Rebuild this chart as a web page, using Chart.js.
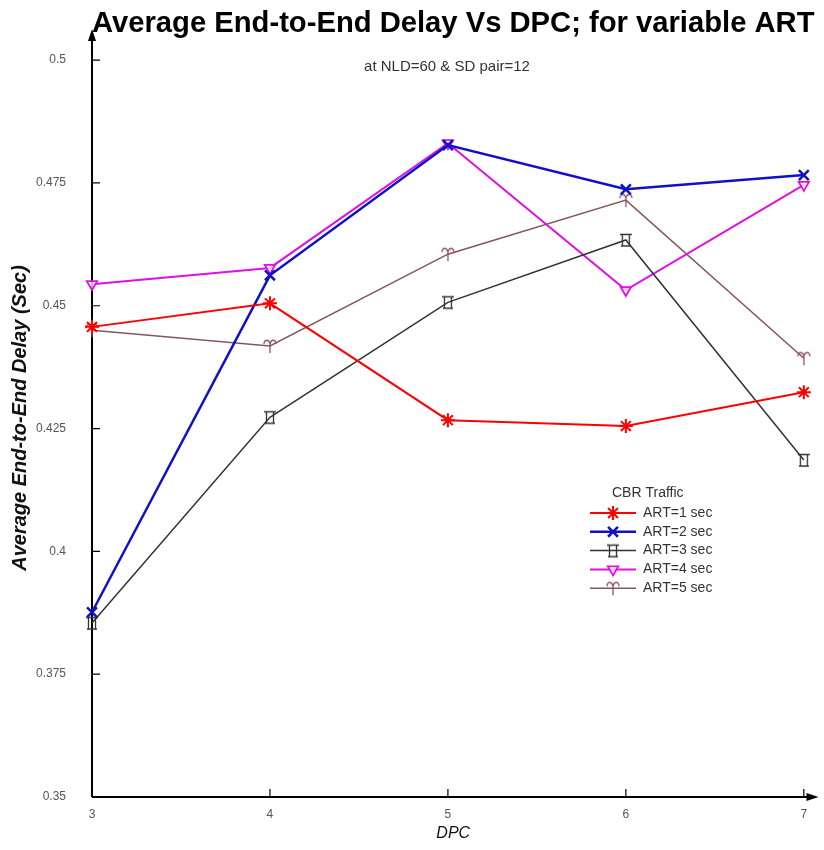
<!DOCTYPE html>
<html>
<head>
<meta charset="utf-8">
<title>Average End-to-End Delay Vs DPC</title>
<script src="https://cdn.jsdelivr.net/npm/chart.js@4.4.1/dist/chart.umd.min.js"></script>
<style>
  html, body { margin: 0; padding: 0; background: #fff; }
  canvas { display: block; }
</style>
</head>
<body>
<canvas id="delayChart" width="824" height="850"></canvas>
<script>
const dpc = [3, 4, 5, 6, 7];
const art1 = [0.4457, 0.4505, 0.4267, 0.4255, 0.4324];
const art2 = [0.3876, 0.4562, 0.4827, 0.4737, 0.4766];
const art3 = [0.3854, 0.4273, 0.4507, 0.4634, 0.4186];
const art4 = [0.4544, 0.4577, 0.4831, 0.4532, 0.4746];
const art5 = [0.4450, 0.4418, 0.4605, 0.4715, 0.4393];
const seriesLabels = ["ART=1 sec", "ART=2 sec", "ART=3 sec", "ART=4 sec", "ART=5 sec"];
const xTicks = [3, 4, 5, 6, 7];
const yTicks = [0.35, 0.375, 0.4, 0.425, 0.45, 0.475, 0.5];

Chart.defaults.font.family = "'Liberation Sans', Arial, sans-serif";

// small hand drawn markers for the two odd symbols
function makeMarker(color, drawFn) {
    const c = document.createElement("canvas");
    c.width = 16; c.height = 16;
    const g = c.getContext("2d");
    g.strokeStyle = color;
    g.lineWidth = 1.3;
    g.translate(8, 8);
    drawFn(g);
    return c;
}
const piMarker = makeMarker("#333333", g => {
    g.beginPath();
    g.moveTo(-6, -5.5); g.lineTo(6, -5.5);
    g.moveTo(-3.5, -5.5); g.lineTo(-3.5, 6);
    g.moveTo(3.5, -5.5); g.lineTo(3.5, 6);
    g.moveTo(-5, 6); g.lineTo(5, 6);
    g.stroke();
});
const ramMarker = makeMarker("#865461", g => {
    g.beginPath();
    g.moveTo(0, 7); g.lineTo(0, -2);
    g.moveTo(0, -2); g.bezierCurveTo(-1, -7, -6, -7, -6, -2);
    g.moveTo(0, -2); g.bezierCurveTo(1, -7, 6, -7, 6, -2);
    g.stroke();
});

function series(values) {
    return dpc.map((x, i) => ({ x: x, y: values[i] }));
}

// axes with arrows, inward ticks, subtitle and the legend box
const axisDecor = {
    id: "axisDecor",
    beforeDatasetsDraw(chart) {
        const { ctx, chartArea: a, scales: { x, y } } = chart;
        const x0 = x.getPixelForValue(xTicks[0]);
        const y0 = y.getPixelForValue(yTicks[0]);
        ctx.save();
        ctx.strokeStyle = "#000";
        ctx.lineWidth = 2;
        ctx.beginPath();
        ctx.moveTo(x0, y0); ctx.lineTo(x0, a.top - 2);
        ctx.moveTo(x0, y0); ctx.lineTo(a.right - 2, y0);
        ctx.stroke();

        ctx.lineWidth = 1.2;
        ctx.beginPath();
        xTicks.slice(1).forEach(v => {
            const px = x.getPixelForValue(v);
            ctx.moveTo(px, y0); ctx.lineTo(px, y0 - 8);
        });
        yTicks.slice(1).forEach(v => {
            const py = y.getPixelForValue(v);
            ctx.moveTo(x0, py); ctx.lineTo(x0 + 8, py);
        });
        ctx.stroke();

        ctx.fillStyle = "#000";
        ctx.beginPath();
        ctx.moveTo(x0, a.top - 10); ctx.lineTo(x0 - 4, a.top + 2); ctx.lineTo(x0 + 4, a.top + 2);
        ctx.fill();
        ctx.beginPath();
        ctx.moveTo(a.right + 4, y0); ctx.lineTo(a.right - 8, y0 - 4); ctx.lineTo(a.right - 8, y0 + 4);
        ctx.fill();

        ctx.fillStyle = "#333";
        ctx.font = "15px 'Liberation Sans', Arial, sans-serif";
        ctx.textAlign = "center";
        ctx.textBaseline = "middle";
        ctx.fillText("at NLD=60 & SD pair=12", 447, 67);
        ctx.restore();
    },
    afterDraw(chart) {
        const ctx = chart.ctx;
        const lx = 590, ly = 513, rowH = 18.8;
        ctx.save();
        ctx.font = "14px 'Liberation Sans', Arial, sans-serif";
        ctx.textAlign = "left";
        ctx.textBaseline = "middle";
        ctx.fillStyle = "#333";
        ctx.fillText("CBR Traffic", 612, 493);
        chart.data.datasets.forEach((ds, i) => {
            const yy = ly + i * rowH;
            ctx.strokeStyle = ds.borderColor;
            ctx.lineWidth = ds.borderWidth;
            ctx.beginPath();
            ctx.moveTo(lx, yy); ctx.lineTo(lx + 46, yy);
            ctx.stroke();
            ctx.fillStyle = ds.pointBackgroundColor || ds.borderColor;
            ctx.lineWidth = ds.pointBorderWidth || 1;
            Chart.helpers.drawPoint(ctx, {
                pointStyle: ds.pointStyle,
                rotation: ds.pointRotation || 0,
                radius: ds.pointRadius || 6,
                borderWidth: ds.pointBorderWidth || 1
            }, lx + 23, yy);
            ctx.fillStyle = "#333";
            ctx.fillText(ds.label, lx + 53, yy);
        });
        ctx.restore();
    }
};

const ctx = document.getElementById("delayChart").getContext("2d");

let delayChart = new Chart(ctx, {
    type: "line",
    data: {
        datasets: [{
            label: seriesLabels[0],
            data: series(art1),
            borderColor: "#ff0000",
            borderWidth: 2,
            pointStyle: "star",
            pointRadius: 7,
            pointBorderWidth: 2,
            pointBorderColor: "#ff0000",
            clip: false
        }, {
            label: seriesLabels[1],
            data: series(art2),
            borderColor: "#1010c8",
            borderWidth: 2.5,
            pointStyle: "crossRot",
            pointRadius: 7,
            pointBorderWidth: 2.5,
            pointBorderColor: "#1010c8",
            clip: false
        }, {
            label: seriesLabels[2],
            data: series(art3),
            borderColor: "#333333",
            borderWidth: 1.5,
            pointStyle: piMarker,
            clip: false
        }, {
            label: seriesLabels[3],
            data: series(art4),
            borderColor: "#e010e0",
            borderWidth: 2,
            pointStyle: "triangle",
            pointRotation: 180,
            pointRadius: 6,
            pointBorderWidth: 1.8,
            pointBorderColor: "#e010e0",
            pointBackgroundColor: "rgba(255,255,255,0.7)",
            clip: false
        }, {
            label: seriesLabels[4],
            data: series(art5),
            borderColor: "#865461",
            borderWidth: 1.5,
            pointStyle: ramMarker,
            clip: false
        }]
    },
    options: {
        responsive: false,
        animation: false,
        layout: { padding: { left: 0, right: 5, top: 0, bottom: 0 } },
        plugins: {
            legend: { display: false },
            tooltip: { enabled: false },
            title: {
                display: true,
                text: "Average End-to-End Delay Vs DPC; for variable ART",
                fullSize: false,
                color: "#000",
                font: { size: 30, weight: "bold", lineHeight: 1 },
                padding: { top: 9, bottom: 0 }
            }
        },
        scales: {
            x: {
                type: "linear",
                min: 3,
                max: 7.06,
                afterBuildTicks: s => { s.ticks = xTicks.map(v => ({ value: v })); },
                afterFit: s => { s.height = 53; },
                grid: { display: false, drawTicks: false },
                border: { display: false },
                ticks: { padding: 10, color: "#555", font: { size: 12 }, callback: v => String(v) },
                title: {
                    display: true,
                    text: "DPC",
                    color: "#111",
                    font: { size: 16, style: "italic" },
                    padding: { top: 0, bottom: 7 }
                }
            },
            y: {
                type: "linear",
                min: 0.35,
                max: 0.5043,
                afterBuildTicks: s => { s.ticks = yTicks.map(v => ({ value: v })); },
                afterFit: s => { s.width = 92; },
                grid: { display: false, drawTicks: false },
                border: { display: false },
                ticks: { padding: 26, color: "#555", font: { size: 12 }, callback: v => String(v) },
                title: {
                    display: true,
                    text: "Average End-to-End Delay (Sec)",
                    color: "#111",
                    font: { size: 20, style: "italic", weight: "bold" },
                    padding: { top: 8, bottom: 0 }
                }
            }
        }
    },
    plugins: [axisDecor]
});
</script>
</body>
</html>
